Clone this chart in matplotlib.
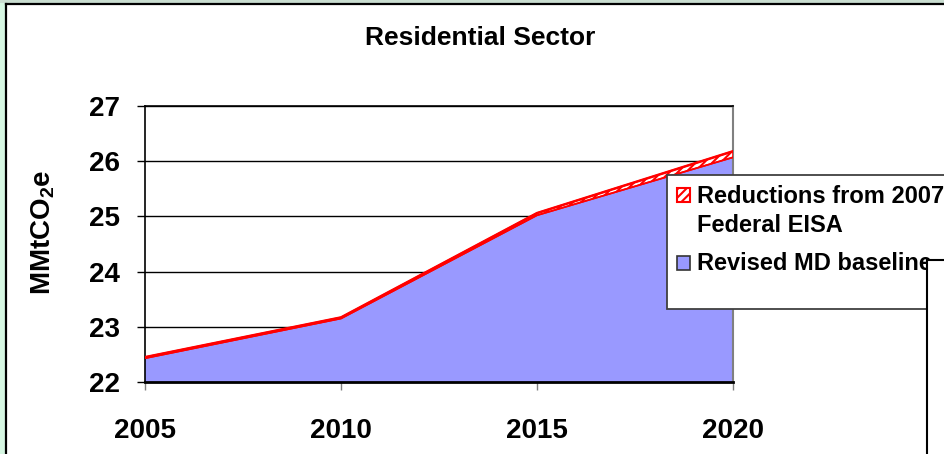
import matplotlib
matplotlib.use("Agg")
import matplotlib.pyplot as plt
from matplotlib.patches import Rectangle
import numpy as np

# ---- data ----
years = [2005, 2010, 2015, 2020]
baseline = [22.43, 23.15, 25.02, 26.07]          # Revised MD baseline
reductions = [0.02, 0.02, 0.04, 0.11]            # Reductions from 2007 Federal EISA
yticks = [22, 23, 24, 25, 26, 27]
title = "Residential Sector"
ylabel = "MMtCO$_\\mathrm{2}$e"
labels = ["Reductions from 2007\nFederal EISA", "Revised MD baseline"]

plt.rcParams['font.family'] = ['Liberation Sans', 'DejaVu Sans']
plt.rcParams['font.weight'] = 'bold'
plt.rcParams['mathtext.fontset'] = 'custom'
plt.rcParams['mathtext.rm'] = 'Liberation Sans:bold'
plt.rcParams['mathtext.it'] = 'Liberation Sans:bold'
plt.rcParams['mathtext.bf'] = 'Liberation Sans:bold'
plt.rcParams['hatch.color'] = 'red'
plt.rcParams['hatch.linewidth'] = 1.5

W, H = 945, 454
fig = plt.figure(figsize=(W / 100, H / 100), dpi=100)
fig.patch.set_facecolor('white')

def fx(px):
    return px / W

def fy(py):
    return 1 - py / H

# outer page decoration: green strips and black frame
fig.add_artist(Rectangle((0, 0), fx(6), 1, transform=fig.transFigure,
                         facecolor='#D6F7E2', edgecolor='none', zorder=0))
fig.add_artist(Rectangle((0, fy(3)), 1, fy(0) - fy(3), transform=fig.transFigure,
                         facecolor='#C9DDD0', edgecolor='none', zorder=0))
fig.add_artist(plt.Line2D([fx(6.5), fx(6.5)], [0, fy(4)], transform=fig.transFigure,
                          color='black', lw=1.6, zorder=1))
fig.add_artist(plt.Line2D([fx(6.5), 1], [fy(4), fy(4)], transform=fig.transFigure,
                          color='black', lw=1.6, zorder=1))

ax = fig.add_axes([fx(145), fy(382), fx(733) - fx(145), fy(106) - fy(382)])
ax.set_facecolor('white')

y_base = np.array(baseline)
y_top = y_base + np.array(reductions)

ax.fill_between(years, 22, y_base, facecolor='#9999FF', edgecolor='none', zorder=2)
ax.fill_between(years, y_base, y_top, facecolor='white', edgecolor='red',
                hatch='////', linewidth=1.2, zorder=3)
ax.plot(years, y_top, color='red', lw=1.8, zorder=4)
ax.plot(years, y_base, color='red', lw=1.2, zorder=4)

ax.set_xlim(2005, 2020)
ax.set_ylim(22, 27)
ax.set_xticks(years)
ax.set_yticks(yticks)
ax.set_axisbelow(True)
ax.grid(axis='y', color='black', lw=1.0, zorder=0)

for s in ['left', 'top']:
    ax.spines[s].set_color('black')
    ax.spines[s].set_linewidth(1.2)
ax.spines['bottom'].set_color('black')
ax.spines['bottom'].set_linewidth(2.0)
ax.spines['bottom'].set_zorder(5)
ax.spines['right'].set_color('#808080')
ax.spines['right'].set_linewidth(1.5)

ax.tick_params(axis='y', direction='out', length=6, width=1, pad=12,
               labelsize=20, colors='black')
ax.tick_params(axis='x', direction='out', length=6, width=1, pad=20,
               labelsize=20, colors='#808080', labelcolor='black')
for lab in ax.get_xticklabels() + ax.get_yticklabels():
    lab.set_fontweight('bold')

fig.text(fx(480), fy(38), title, ha='center', va='center', fontsize=19,
         fontweight='bold')
fig.text(fx(43), fy(232), ylabel, ha='center', va='center', rotation=90,
         fontsize=20, fontweight='bold')

# legend frame
fig.add_artist(Rectangle((fx(667), fy(309)), fx(980) - fx(667), fy(175) - fy(309),
                         transform=fig.transFigure, facecolor='white',
                         edgecolor='#404040', lw=1.3, zorder=6))
# legend entries (handles + labels)
handle_styles = [dict(facecolor='white', edgecolor='red', hatch='////', lw=1.5),
                 dict(facecolor='#9999FF', edgecolor='#333333', lw=1.2)]
handle_tops = [188, 256]
line_baselines = [[203, 232], [270]]
for style, top, lab, bases in zip(handle_styles, handle_tops, labels, line_baselines):
    fig.add_artist(Rectangle((fx(677), fy(top + 14)), fx(690) - fx(677), fy(top) - fy(top + 14),
                             transform=fig.transFigure, zorder=7, **style))
    for line, b in zip(lab.split('\n'), bases):
        fig.text(fx(697), fy(b), line, ha='left', va='baseline', fontsize=17,
                 fontweight='bold', zorder=7)

# overlapping box at right
fig.add_artist(Rectangle((fx(927), fy(470)), fx(990) - fx(927), fy(260) - fy(470),
                         transform=fig.transFigure, facecolor='white',
                         edgecolor='black', lw=1.5, zorder=8))

fig.savefig('out.png', dpi=100)
